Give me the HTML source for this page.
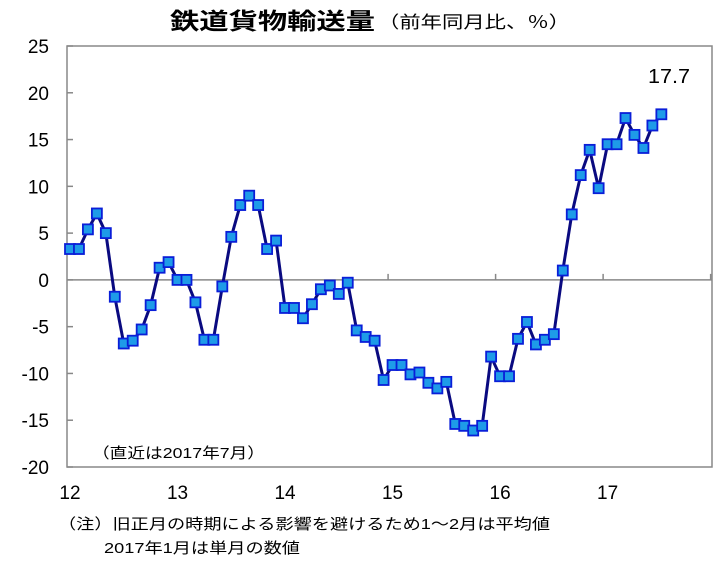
<!DOCTYPE html>
<html><head><meta charset="utf-8"><style>
body{margin:0;background:#fff;width:718px;height:562px;overflow:hidden;font-family:"Liberation Sans","Noto Sans CJK JP",sans-serif}
</style></head><body>
<svg width="718" height="562" xmlns="http://www.w3.org/2000/svg" font-family="Liberation Sans, Noto Sans CJK JP, sans-serif">
<text x="170" y="29" font-size="23" font-weight="bold" textLength="205" lengthAdjust="spacingAndGlyphs">鉄道貨物輸送量</text>
<text x="378" y="28" font-size="17" textLength="192" lengthAdjust="spacingAndGlyphs">（前年同月比、％）</text>
<g id="g"></g>
<text x="92" y="458" font-size="15" textLength="173" lengthAdjust="spacingAndGlyphs">（直近は2017年7月）</text>
<text x="648" y="83" font-size="20" textLength="42" lengthAdjust="spacingAndGlyphs">17.7</text>
<text x="58" y="529" font-size="15" textLength="492" lengthAdjust="spacingAndGlyphs">（注）旧正月の時期による影響を避けるため1～2月は平均値</text>
<text x="104" y="553" font-size="15" textLength="196" lengthAdjust="spacingAndGlyphs">2017年1月は単月の数値</text>
</svg>
<script>
const values=[3.3,3.3,5.4,7.1,5.0,-1.8,-6.8,-6.5,-5.3,-2.7,1.3,1.9,0.0,0.0,-2.4,-6.4,-6.4,-0.7,4.6,8.0,9.0,8.0,3.3,4.2,
-3.0,-3.0,-4.1,-2.6,-1.0,-0.6,-1.5,-0.3,-5.4,-6.1,-6.5,-10.7,
-9.1,-9.1,-10.1,-9.9,-11.0,-11.6,-10.9,-15.4,-15.6,-16.1,-15.6,-8.2,
-10.3,-10.3,-6.3,-4.5,-6.9,-6.4,-5.8,1.0,7.0,11.2,13.9,9.8,
14.5,14.5,17.3,15.5,14.1,16.5,17.7];
const yTicks=[25,20,15,10,5,0,-5,-10,-15,-20];
const yearLabels=["12","13","14","15","16","17"];
const NS="http://www.w3.org/2000/svg";
const g=document.getElementById('g');
const X0=67,X1=712,Y0=46,Y1=467;
const x=i=>70+i*8.96;
const y=v=>Y0+(25-v)*(Y1-Y0)/45;
function el(t,a){const e=document.createElementNS(NS,t);for(const k in a)e.setAttribute(k,a[k]);g.appendChild(e);return e;}
let r=el('rect',{x:X0,y:Y0,width:X1-X0,height:Y1-Y0,fill:'none',stroke:'#888','stroke-width':1.5});


yTicks.forEach(v=>{
 const t=el('line',{x1:X0,x2:X0+6,y1:y(v),y2:y(v),stroke:'#888','stroke-width':1.5});
 
 
 const l=el('text',{x:X0-18,y:y(v)+7,'font-size':19,'text-anchor':'end'});
 l.textContent=v;
 
 
});
const z=el('line',{x1:X0,x2:X1,y1:y(0),y2:y(0),stroke:'#888','stroke-width':1.5});


yearLabels.forEach((s,k)=>{
 const tx=x(12*k+11.5);
 const t=el('line',{x1:tx,x2:tx,y1:y(0)-6,y2:y(0),stroke:'#888','stroke-width':1.5});
 
 
 const l=el('text',{x:x(12*k),y:499,'font-size':19,'text-anchor':'middle'});
 l.textContent=s;
 
 
});
const p=el('polyline',{points:values.map((v,i)=>x(i)+','+y(v)).join(' '),fill:'none',stroke:'#0a0a80','stroke-width':3});


values.forEach((v,i)=>{
 const m=el('rect',{x:x(i)-5,y:y(v)-5,width:10,height:10,fill:'#1e9be8',stroke:'#0a1ed8','stroke-width':1.8});
 
 
});
</script>
</body></html>
